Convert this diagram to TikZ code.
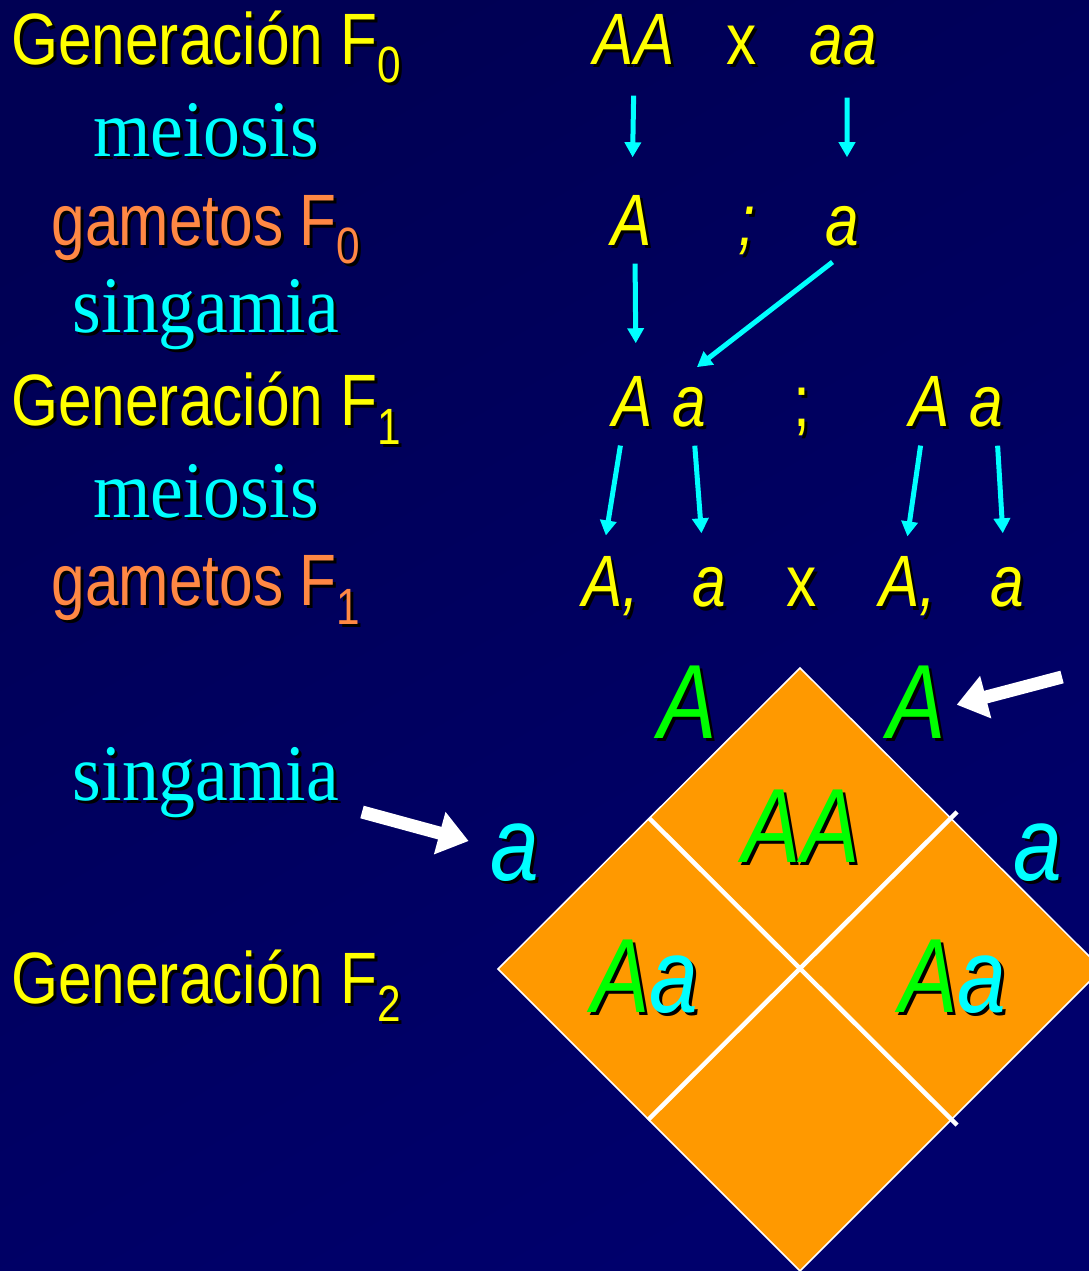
\documentclass[tikz,border=0pt]{standalone}
\usepackage{fontspec}
\setmainfont{Liberation Serif}[FakeStretch=0.92]
\setsansfont{Liberation Sans}[FakeStretch=0.83]
\usepackage{tikz}
\usetikzlibrary{arrows.meta}

\definecolor{navytop}{RGB}{0,0,84}
\definecolor{navybot}{RGB}{0,0,108}
\definecolor{geneyellow}{RGB}{255,255,0}
\definecolor{genecyan}{RGB}{0,255,255}
\definecolor{gameteorange}{RGB}{255,136,68}
\definecolor{allelegreen}{RGB}{0,255,0}
\definecolor{punnettfill}{RGB}{255,153,0}

% drop shadow behind a text, and a lowered index
\newcommand\shd[1]{\makebox[0pt][l]{\kern0.03cm\raisebox{-0.03cm}{\renewcommand\textcolor[2]{##2}\color{black}#1}}#1}
\newcommand\gsub[1]{\raisebox{-0.18cm}{\fontsize{14.5}{16}\selectfont #1}}

\begin{document}
\begin{tikzpicture}[
          x=0.01cm, y=-0.01cm,
          title/.style={anchor=base, inner sep=0.05cm, font=\fontsize{20.7}{24}\selectfont\sffamily},
          process/.style={anchor=base, inner sep=0.05cm, text=genecyan, font=\fontsize{22.8}{26}\selectfont\rmfamily},
          gene/.style={anchor=base, inner sep=0pt, text height=0.53cm, text depth=0.08cm,
              text=geneyellow, font=\fontsize{20.7}{24}\selectfont\sffamily\itshape},
          allele/.style={anchor=base, inner sep=0pt, font=\fontsize{30}{34}\selectfont\sffamily\itshape},
          pass/.style={-{Triangle[width=0.16cm, length=0.15cm]}, line width=0.05cm, genecyan},
          pointer/.style={-{Triangle[width=0.42cm, length=0.3cm]}, line width=0.13cm, white}
        ]

        % -------- Background --------
        \useasboundingbox (0,0) rectangle (1089,1271);
        \shade[top color=navytop, bottom color=navybot, shading angle=30] (0,0) rectangle (1089,1271);

        % -------- Stage names --------
        \node[title, text=geneyellow] (genF0) at (206,65) {\shd{Generación F\gsub{0}}};
        \node[process] (meio0) at (206,157) {\shd{meiosis}};
        \node[title, text=gameteorange] (gamF0) at (206,246) {\shd{gametos F\gsub{0}}};
        \node[process] (sing0) at (206,333) {\shd{singamia}};
        \node[title, text=geneyellow] (genF1) at (206,426) {\shd{Generación F\gsub{1}}};
        \node[process] (meio1) at (206,518) {\shd{meiosis}};
        \node[title, text=gameteorange] (gamF1) at (206,606) {\shd{gametos F\gsub{1}}};
        \node[process] (sing1) at (206,800) {\shd{singamia}};
        \node[title, text=geneyellow] (genF2) at (206,1003) {\shd{Generación F\gsub{2}}};

        % -------- Crosses --------
        \node[gene] (f0AA) at (634,65) {\shd{AA}};
        \node[gene, font=\fontsize{20.7}{24}\selectfont\sffamily] (f0x) at (742,65) {\shd{x}};
        \node[gene] (f0aa) at (843,65) {\shd{aa}};

        \node[gene] (g0A) at (632,246) {\shd{A}};
        \node[gene] (g0semi) at (747,246) {\shd{;}};
        \node[gene] (g0a) at (842,246) {\shd{a}};

        \node[gene] (f1A) at (633,427) {\shd{A}};
        \node[gene] (f1a) at (689,427) {\shd{a}};
        \node[gene, font=\fontsize{20.7}{24}\selectfont\sffamily] (f1semi) at (802,427) {\shd{;}};
        \node[gene] (f1B) at (930,427) {\shd{A}};
        \node[gene] (f1b) at (986,427) {\shd{a}};

        \node[gene] (g1A) at (611,607) {\shd{A,}};
        \node[gene] (g1a) at (709,607) {\shd{a}};
        \node[gene, font=\fontsize{20.7}{24}\selectfont\sffamily] (g1x) at (802,607) {\shd{x}};
        \node[gene] (g1B) at (908,607) {\shd{A,}};
        \node[gene] (g1b) at (1007,607) {\shd{a}};

        % -------- Arrows --------
        \draw[pass, shorten <=0.22cm, shorten >=0.35cm] (f0AA.south) -- (g0A.north);
        \draw[pass, shorten <=0.24cm, shorten >=0.35cm] ([xshift=0.04cm]f0aa.south) -- ([xshift=0.05cm]g0a.north);
        \draw[pass, shorten <=0.09cm, shorten >=0.3cm] ([xshift=0.03cm]g0A.south) -- ([xshift=0.03cm]f1A.north);
        \draw[pass, shorten <=0.12cm, shorten >=0.1cm] (g0a.south) -- (f1a.north);

        \draw[pass, shorten <=0.1cm, shorten >=0.18cm] ([xshift=-0.11cm]f1A.south) -- ([xshift=-0.08cm]g1A.north);
        \draw[pass, shorten <=0.1cm, shorten >=0.2cm] ([xshift=0.05cm]f1a.south) -- ([xshift=-0.06cm]g1a.north);
        \draw[pass, shorten <=0.1cm, shorten >=0.17cm] ([xshift=-0.08cm]f1B.south) -- ([xshift=-0.03cm]g1B.north);
        \draw[pass, shorten <=0.1cm, shorten >=0.2cm] ([xshift=0.11cm]f1b.south) -- ([xshift=-0.03cm]g1b.north);

        % -------- Punnett square --------
        \draw[white, line width=0.015cm, fill=punnettfill] (800,668) -- (1102,969) -- (800,1271) -- (498,969) -- cycle;
        \draw[white, line width=0.045cm] (649,818) -- (957,1125);
        \draw[white, line width=0.045cm] (957,812) -- (648,1120);

        \node[allele, text=allelegreen] (colA) at (688,738) {\shd{A}};
        \node[allele, text=allelegreen] (colB) at (917,738) {\shd{A}};
        \node[allele, text=genecyan] (rowa) at (515,880) {\shd{a}};
        \node[allele, text=genecyan] (rowb) at (1038,880) {\shd{a}};

        \node[allele, text=allelegreen] (cellAA) at (801,862) {\shd{AA}};
        \node[allele] (cellAa) at (645,1012) {\shd{\textcolor{allelegreen}{A}\textcolor{genecyan}{a}}};
        \node[allele] (cellAb) at (953,1012) {\shd{\textcolor{allelegreen}{A}\textcolor{genecyan}{a}}};

        % -------- Pointers --------
        \coordinate (singTail) at (362,812);
        \coordinate (colTail) at (1062,677);
        \draw[pointer, shorten >=0.48cm] (singTail) -- (rowa.center);
        \draw[pointer, shorten >=0.41cm] (colTail) -- ([yshift=-0.12cm]colB.center);

      \end{tikzpicture}
\end{document}
